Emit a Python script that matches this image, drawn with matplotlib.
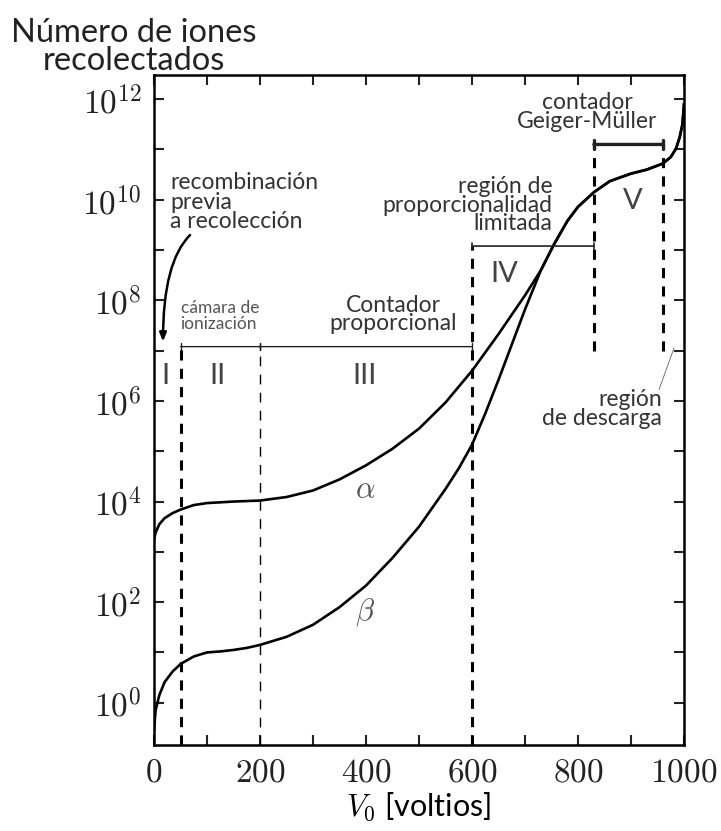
import matplotlib
matplotlib.use('Agg')
import matplotlib.pyplot as plt

# curves: voltage and log10(number of ions)
alpha_v = [0, 3, 10, 20, 35, 50, 75, 100, 150, 200, 250, 300, 350, 400, 450, 500,
           550, 600, 650, 700, 730, 755, 780, 800, 830, 860, 900, 930, 960, 975,
           985, 992, 997, 1000]
alpha_log = [3.25, 3.38, 3.55, 3.67, 3.77, 3.84, 3.93, 3.97, 4.0, 4.02, 4.09, 4.22,
             4.44, 4.72, 5.05, 5.45, 5.97, 6.6, 7.33, 8.1, 8.6, 9.12, 9.58, 9.86,
             10.15, 10.37, 10.52, 10.6, 10.72, 10.85, 11.02, 11.25, 11.5, 11.9]

beta_v = [0, 3, 10, 20, 35, 50, 75, 100, 125, 150, 175, 200, 250, 300, 350, 400,
          450, 500, 550, 575, 600, 625, 650, 700, 730, 755, 780, 800, 830, 860,
          900, 930, 960, 975, 985, 992, 997, 1000]
beta_log = [-0.55, -0.15, 0.15, 0.41, 0.62, 0.77, 0.92, 1.0, 1.02, 1.05, 1.09, 1.15,
            1.31, 1.55, 1.9, 2.33, 2.88, 3.5, 4.25, 4.66, 5.13, 5.75, 6.42, 7.82,
            8.6, 9.12, 9.58, 9.86, 10.15, 10.37, 10.52, 10.6, 10.72, 10.85, 11.02,
            11.25, 11.5, 11.9]

# region boundaries (voltios) and how high their dashed lines reach (log10)
bounds = [50, 200, 600, 830, 960]
bound_top = [7.08, 7.08, 9.08, 11.1, 11.1]
bound_bottom = [None, None, None, 7.0, 7.0]

regions = ['I', 'II', 'III', 'IV', 'V']
region_v = [22, 120, 397, 661, 903]
region_log = [6.49, 6.49, 6.49, 8.52, 9.97]

y_decades = list(range(0, 13))
x_ticks = list(range(0, 1001, 100))

plt.rcParams['mathtext.fontset'] = 'cm'
plt.rcParams['font.family'] = ['Lato', 'DejaVu Sans']

fig = plt.figure(figsize=(7.21, 8.31), dpi=100)
ax = fig.add_axes([0.2136, 0.1035, 0.7351, 0.8062])

ax.plot(alpha_v, [10 ** v for v in alpha_log], color='black', lw=1.9)
ax.plot(beta_v, [10 ** v for v in beta_log], color='black', lw=1.9)

ax.set_yscale('log')
ax.set_xlim(0, 1000)
ax.set_ylim(10 ** -0.84, 10 ** 12.48)

# dashed boundaries
for b, top, bot in zip(bounds, bound_top, bound_bottom):
    y0 = ax.get_ylim()[0] if bot is None else 10 ** bot
    if b == 200:
        ax.plot([b, b], [y0, 10 ** top], color='black', lw=1.0, dashes=(7, 6))
    else:
        ax.plot([b, b], [y0, 10 ** top], color='black', lw=2.2, dashes=(3.3, 2.7))

# brackets over the regions
def bracket(x0, x1, lg, lw=1.0, w=0.25):
    ax.annotate('', xy=(x0, 10 ** lg), xytext=(x1, 10 ** lg),
                arrowprops=dict(arrowstyle='|-|,widthA=%s,widthB=%s' % (w, w),
                                lw=lw, color='#222222', shrinkA=0, shrinkB=0))

bracket(bounds[0], bounds[1], 7.08)
bracket(bounds[1], bounds[2], 7.08)
bracket(bounds[2], bounds[3], 9.08, lw=1.2)
bracket(bounds[3], bounds[4], 11.1, lw=2.4, w=0.3)

# ticks
ax.set_yticks([10 ** k for k in y_decades])
ax.set_yticklabels(['$10^{%d}$' % k if k % 2 == 0 else '' for k in y_decades])
ax.yaxis.set_minor_locator(matplotlib.ticker.NullLocator())
ax.set_xticks(x_ticks)
ax.set_xticklabels(['$%d$' % t if t % 200 == 0 else '' for t in x_ticks])
ax.tick_params(direction='in', length=7, width=1.5, top=True, right=True,
               labelsize=24, pad=9, colors='#222222')
for s in ax.spines.values():
    s.set_linewidth(1.8)

ax.set_xlabel('$V_0$ [voltios]', fontsize=22, labelpad=2)

fig.text(0.186, 0.9157, 'Número de iones\nrecolectados', fontsize=23.5, ha='center',
         va='baseline', multialignment='center', linespacing=0.9, color='#222222')

txt = '#333333'
for r, v, lg in zip(regions, region_v, region_log):
    ax.text(v, 10 ** lg, r, fontsize=21, ha='center', va='center', color='#444444')

ax.text(30, 10 ** 10.55, 'recombinación\nprevia\na recolección', fontsize=16.5,
        ha='left', va='top', linespacing=0.92, color=txt)
ax.annotate('', xy=(17, 10 ** 7.18), xytext=(68, 10 ** 9.3),
            arrowprops=dict(arrowstyle='-|>,head_length=0.5,head_width=0.2',
                            connectionstyle='angle3,angleA=45,angleB=90',
                            lw=1.8, color='black', shrinkA=0, shrinkB=0))

ax.text(50, 10 ** 7.69, 'cámara de\nionización', fontsize=12.5, ha='left',
        va='center', linespacing=0.98, color='#555555')
ax.text(452, 10 ** 7.71, 'Contador\nproporcional', fontsize=16.5, ha='center',
        va='center', linespacing=0.82, color=txt)
ax.text(752, 10 ** 9.89, 'región de\nproporcionalidad\nlimitada', fontsize=16.5,
        ha='right', va='center', linespacing=0.85, color=txt)
ax.text(818, 10 ** 11.74, 'contador\nGeiger-Müller', fontsize=16.5, ha='center',
        va='center', linespacing=0.88, color=txt)
ax.text(958, 10 ** 5.84, 'región\nde descarga', fontsize=16.5, ha='right',
        va='center', linespacing=0.87, color=txt)
ax.plot([953, 981], [10 ** 6.23, 10 ** 7.05], color='#777777', lw=0.7)

ax.text(399, 10 ** 4.25, r'$\alpha$', fontsize=22, ha='center', va='center',
        color='#555555')
ax.text(399, 10 ** 1.8, r'$\beta$', fontsize=22, ha='center', va='center',
        color='#555555')

fig.savefig('out.png', dpi=100)
